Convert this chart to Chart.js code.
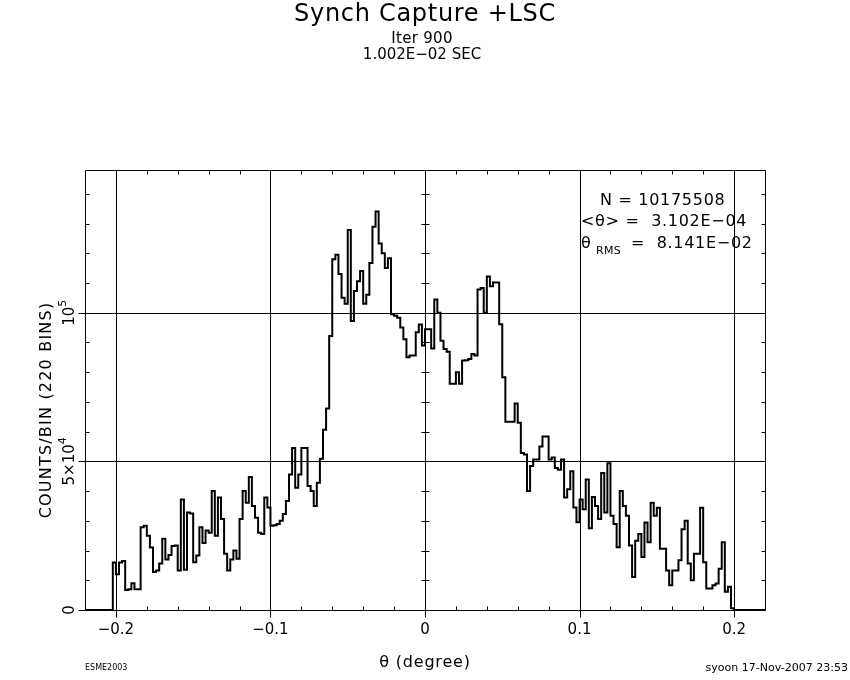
<!DOCTYPE html>
<html>
<head>
<meta charset="utf-8">
<script src="https://cdn.jsdelivr.net/npm/chart.js@4.4.1/dist/chart.umd.min.js"></script>
<style>
  body { margin: 0; background: #fff; }
  #wrap { width: 850px; height: 680px; }
</style>
</head>
<body>
<div id="wrap"><canvas id="grafico" width="850" height="680"></canvas></div>
<script>
// histograma: 220 bins de -0.22 a 0.22 (cuentas por bin)
const binLow = -0.22
const binWidth = 0.002
const binCounts = [
  0, 0, 0, 0, 0, 0, 0, 0, 0, 0,
  16000, 12000, 16000, 16500, 6700, 7000, 9000, 7000, 7000, 27800,
  28300, 25000, 21000, 12800, 13300, 15600, 24000, 17000, 18500, 21500,
  21700, 13300, 37200, 13500, 32800, 32500, 16100, 18300, 27800, 22500,
  26700, 26000, 40000, 25000, 37800, 30600, 18900, 13300, 17000, 20000,
  17200, 30600, 40000, 36100, 44700, 35000, 31000, 26000, 25600, 37800,
  34500, 28300, 28500, 28900, 30000, 32300, 36700, 45600, 54500, 41100,
  45600, 54500, 54500, 41700, 40000, 35000, 42800, 50900, 60600, 67800,
  92200, 118000, 119500, 113000, 105000, 103000, 127800, 97200, 107300, 110600,
  114000, 103000, 106000, 116700, 128900, 134000, 123300, 120000, 115000, 118300,
  99500, 99000, 98300, 95000, 91100, 85000, 85600, 85600, 93400, 96000,
  89000, 94400, 94400, 88000, 104400, 100000, 90600, 87800, 86900, 76100,
  76100, 80000, 76100, 83900, 84000, 84400, 86100, 85600, 107800, 108300,
  100000, 112200, 108900, 110200, 110200, 96100, 78300, 63300, 63300, 63300,
  69500, 63000, 52800, 52300, 40000, 48400, 50600, 50600, 55000, 58400,
  58400, 50600, 51300, 47800, 47200, 50600, 37800, 40600, 46700, 34500,
  29500, 37200, 33900, 43900, 27500, 38000, 35000, 30600, 46100, 32800,
  49400, 31700, 28900, 21100, 40000, 35000, 31700, 21700, 11100, 23300,
  25600, 17800, 29400, 22800, 36100, 31700, 34400, 20600, 20600, 13300,
  8300, 13300, 13300, 16700, 27200, 30000, 15600, 10000, 18900, 18900,
  34400, 16100, 7200, 7200, 8300, 8900, 13900, 22800, 6100, 7800,
  600, 0, 0, 0, 0, 0, 0, 0, 0, 0
]

// ejes
const xMin = -0.22
const xMax = 0.22
const yMax = 148000
const xMajorTicks = [-0.2, -0.1, 0, 0.1, 0.2]
const xTickLabels = ['\u22120.2', '\u22120.1', '0', '0.1', '0.2']
const xMinorStep = 0.02
const yMajorTicks = [0, 50000, 100000]
const yMinorStep = 10000

// textos
const titulo = 'Synch Capture +LSC'
const subtitulo1 = 'Iter 900'
const subtitulo2 = '1.002E\u221202 SEC'
const statsN = 'N = 10175508'
const statsMean = '<\u03b8> =  3.102E\u221204'
const statsRms = ['\u03b8', 'RMS', '=  8.141E\u221202']
const xTitulo = '\u03b8 (degree)'
const yTitulo = 'COUNTS/BIN (220 BINS)'
const pieIzq = 'ESME2003'
const pieDer = 'syoon 17-Nov-2007 23:53'

const FUENTE = '"DejaVu Sans", "Liberation Sans", sans-serif'

// puntos del histograma en los bordes de cada bin (escalonado)
const puntos = binCounts.map((c, i) => ({ x: binLow + i * binWidth, y: c }))
puntos.push({ x: binLow + binCounts.length * binWidth, y: binCounts[binCounts.length - 1] })

const px = v => Math.round(v) + 0.5

const marcoPlugin = {
  id: 'marco',
  beforeDatasetsDraw(chart) {
    const { ctx, chartArea: a, scales: { x, y } } = chart
    ctx.save()
    ctx.strokeStyle = '#000'
    ctx.lineWidth = 1
    ctx.beginPath()
    // lineas de grilla verticales
    xMajorTicks.forEach(t => {
      const xx = px(x.getPixelForValue(t))
      ctx.moveTo(xx, a.top); ctx.lineTo(xx, a.bottom)
    })
    // lineas de grilla horizontales
    yMajorTicks.forEach(t => {
      if (t === 0) return
      const yy = px(y.getPixelForValue(t))
      ctx.moveTo(a.left, yy); ctx.lineTo(a.right, yy)
    })
    ctx.stroke()
    ctx.restore()
  },
  afterDraw(chart) {
    const { ctx, chartArea: a, scales: { x, y } } = chart
    const L = px(a.left), R = px(a.right), T = px(a.top), B = px(a.bottom)
    ctx.save()
    ctx.strokeStyle = '#000'
    ctx.lineWidth = 1
    ctx.beginPath()
    ctx.rect(L, T, R - L, B - T)
    // ticks menores eje x (hacia adentro)
    for (let v = -0.2; v <= 0.2001; v += xMinorStep) {
      const xx = px(x.getPixelForValue(v))
      ctx.moveTo(xx, B); ctx.lineTo(xx, B - 4)
      ctx.moveTo(xx, T); ctx.lineTo(xx, T + 4)
    }
    // ticks mayores eje x (hacia afuera)
    xMajorTicks.forEach(t => {
      const xx = px(x.getPixelForValue(t))
      ctx.moveTo(xx, B); ctx.lineTo(xx, B + 7)
    })
    // ticks eje y
    const x0 = px(x.getPixelForValue(0))
    for (let v = 0; v <= yMax; v += yMinorStep) {
      const yy = px(y.getPixelForValue(v))
      ctx.moveTo(L, yy); ctx.lineTo(L + 4, yy)
      ctx.moveTo(R, yy); ctx.lineTo(R - 4, yy)
      ctx.moveTo(x0 - 4, yy); ctx.lineTo(x0 + 4, yy)
    }
    yMajorTicks.forEach(t => {
      const yy = px(y.getPixelForValue(t))
      ctx.moveTo(L, yy); ctx.lineTo(L - 7, yy)
    })
    ctx.stroke()

    ctx.fillStyle = '#000'
    // titulos
    ctx.textAlign = 'center'
    ctx.textBaseline = 'alphabetic'
    ctx.letterSpacing = '0.7px'
    ctx.font = '24px ' + FUENTE
    ctx.fillText(titulo, 425, 21)
    ctx.letterSpacing = '0.3px'
    ctx.font = '15px ' + FUENTE
    ctx.fillText(subtitulo1, 422, 43)
    ctx.letterSpacing = '0px'
    ctx.fillText(subtitulo2, 422, 59)

    // etiquetas eje x
    ctx.font = '15px ' + FUENTE
    xMajorTicks.forEach((t, i) => {
      ctx.fillText(xTickLabels[i], x.getPixelForValue(t), 634)
    })
    ctx.letterSpacing = '0.8px'
    ctx.font = '16px ' + FUENTE
    ctx.fillText(xTitulo, 425, 667)
    ctx.letterSpacing = '0px'

    // etiquetas eje y (rotadas)
    const rotado = (cx, cy, fn) => {
      ctx.save(); ctx.translate(cx, cy); ctx.rotate(-Math.PI / 2); fn(); ctx.restore()
    }
    const potencia = (base, exp) => {
      ctx.font = '15px ' + FUENTE
      const w1 = ctx.measureText(base).width
      ctx.font = '11px ' + FUENTE
      const w2 = ctx.measureText(exp).width
      ctx.textAlign = 'left'
      ctx.font = '15px ' + FUENTE
      ctx.fillText(base, -(w1 + w2) / 2, 0)
      ctx.font = '11px ' + FUENTE
      ctx.fillText(exp, -(w1 + w2) / 2 + w1, -8)
    }
    ctx.font = '15px ' + FUENTE
    rotado(74, y.getPixelForValue(0), () => { ctx.textAlign = 'center'; ctx.fillText('0', 0, 0) })
    rotado(74, y.getPixelForValue(50000), () => potencia('5\u00d710', '4'))
    rotado(74, y.getPixelForValue(100000), () => potencia('10', '5'))
    ctx.font = '16px ' + FUENTE
    ctx.letterSpacing = '1.2px'
    rotado(51, 410, () => { ctx.textAlign = 'center'; ctx.fillText(yTitulo, 0, 0) })

    // caja de estadisticas
    ctx.font = '16px ' + FUENTE
    ctx.letterSpacing = '0.7px'
    ctx.textAlign = 'left'
    ctx.fillText(statsN, 600, 205)
    ctx.fillText(statsMean, 581, 226)
    ctx.fillText(statsRms[0], 581, 248)
    ctx.font = '11px ' + FUENTE
    ctx.letterSpacing = '0.3px'
    ctx.fillText(statsRms[1], 596, 254)
    ctx.font = '16px ' + FUENTE
    ctx.letterSpacing = '0.7px'
    ctx.fillText(statsRms[2], 631, 248)
    ctx.letterSpacing = '0px'

    // pie de pagina
    ctx.font = '8px ' + FUENTE
    ctx.fillText(pieIzq, 85, 670)
    ctx.font = '11px ' + FUENTE
    ctx.textAlign = 'right'
    ctx.fillText(pieDer, 848, 671)
    ctx.restore()
  }
}

const config = {
  type: 'line',
  data: {
    datasets: [{
      label: 'theta',
      data: puntos,
      stepped: 'after',
      borderColor: '#000',
      borderWidth: 2,
      pointRadius: 0,
      fill: false
    }]
  },
  options: {
    responsive: false,
    animation: false,
    devicePixelRatio: 1,
    layout: { padding: { left: 85, right: 85, top: 170, bottom: 70 } },
    plugins: { legend: { display: false }, tooltip: { enabled: false } },
    scales: {
      x: { type: 'linear', min: xMin, max: xMax, display: false },
      y: { type: 'linear', min: 0, max: yMax, display: false }
    }
  },
  plugins: [marcoPlugin]
}

const grafico = new Chart(document.getElementById('grafico'), config)
</script>
</body>
</html>
